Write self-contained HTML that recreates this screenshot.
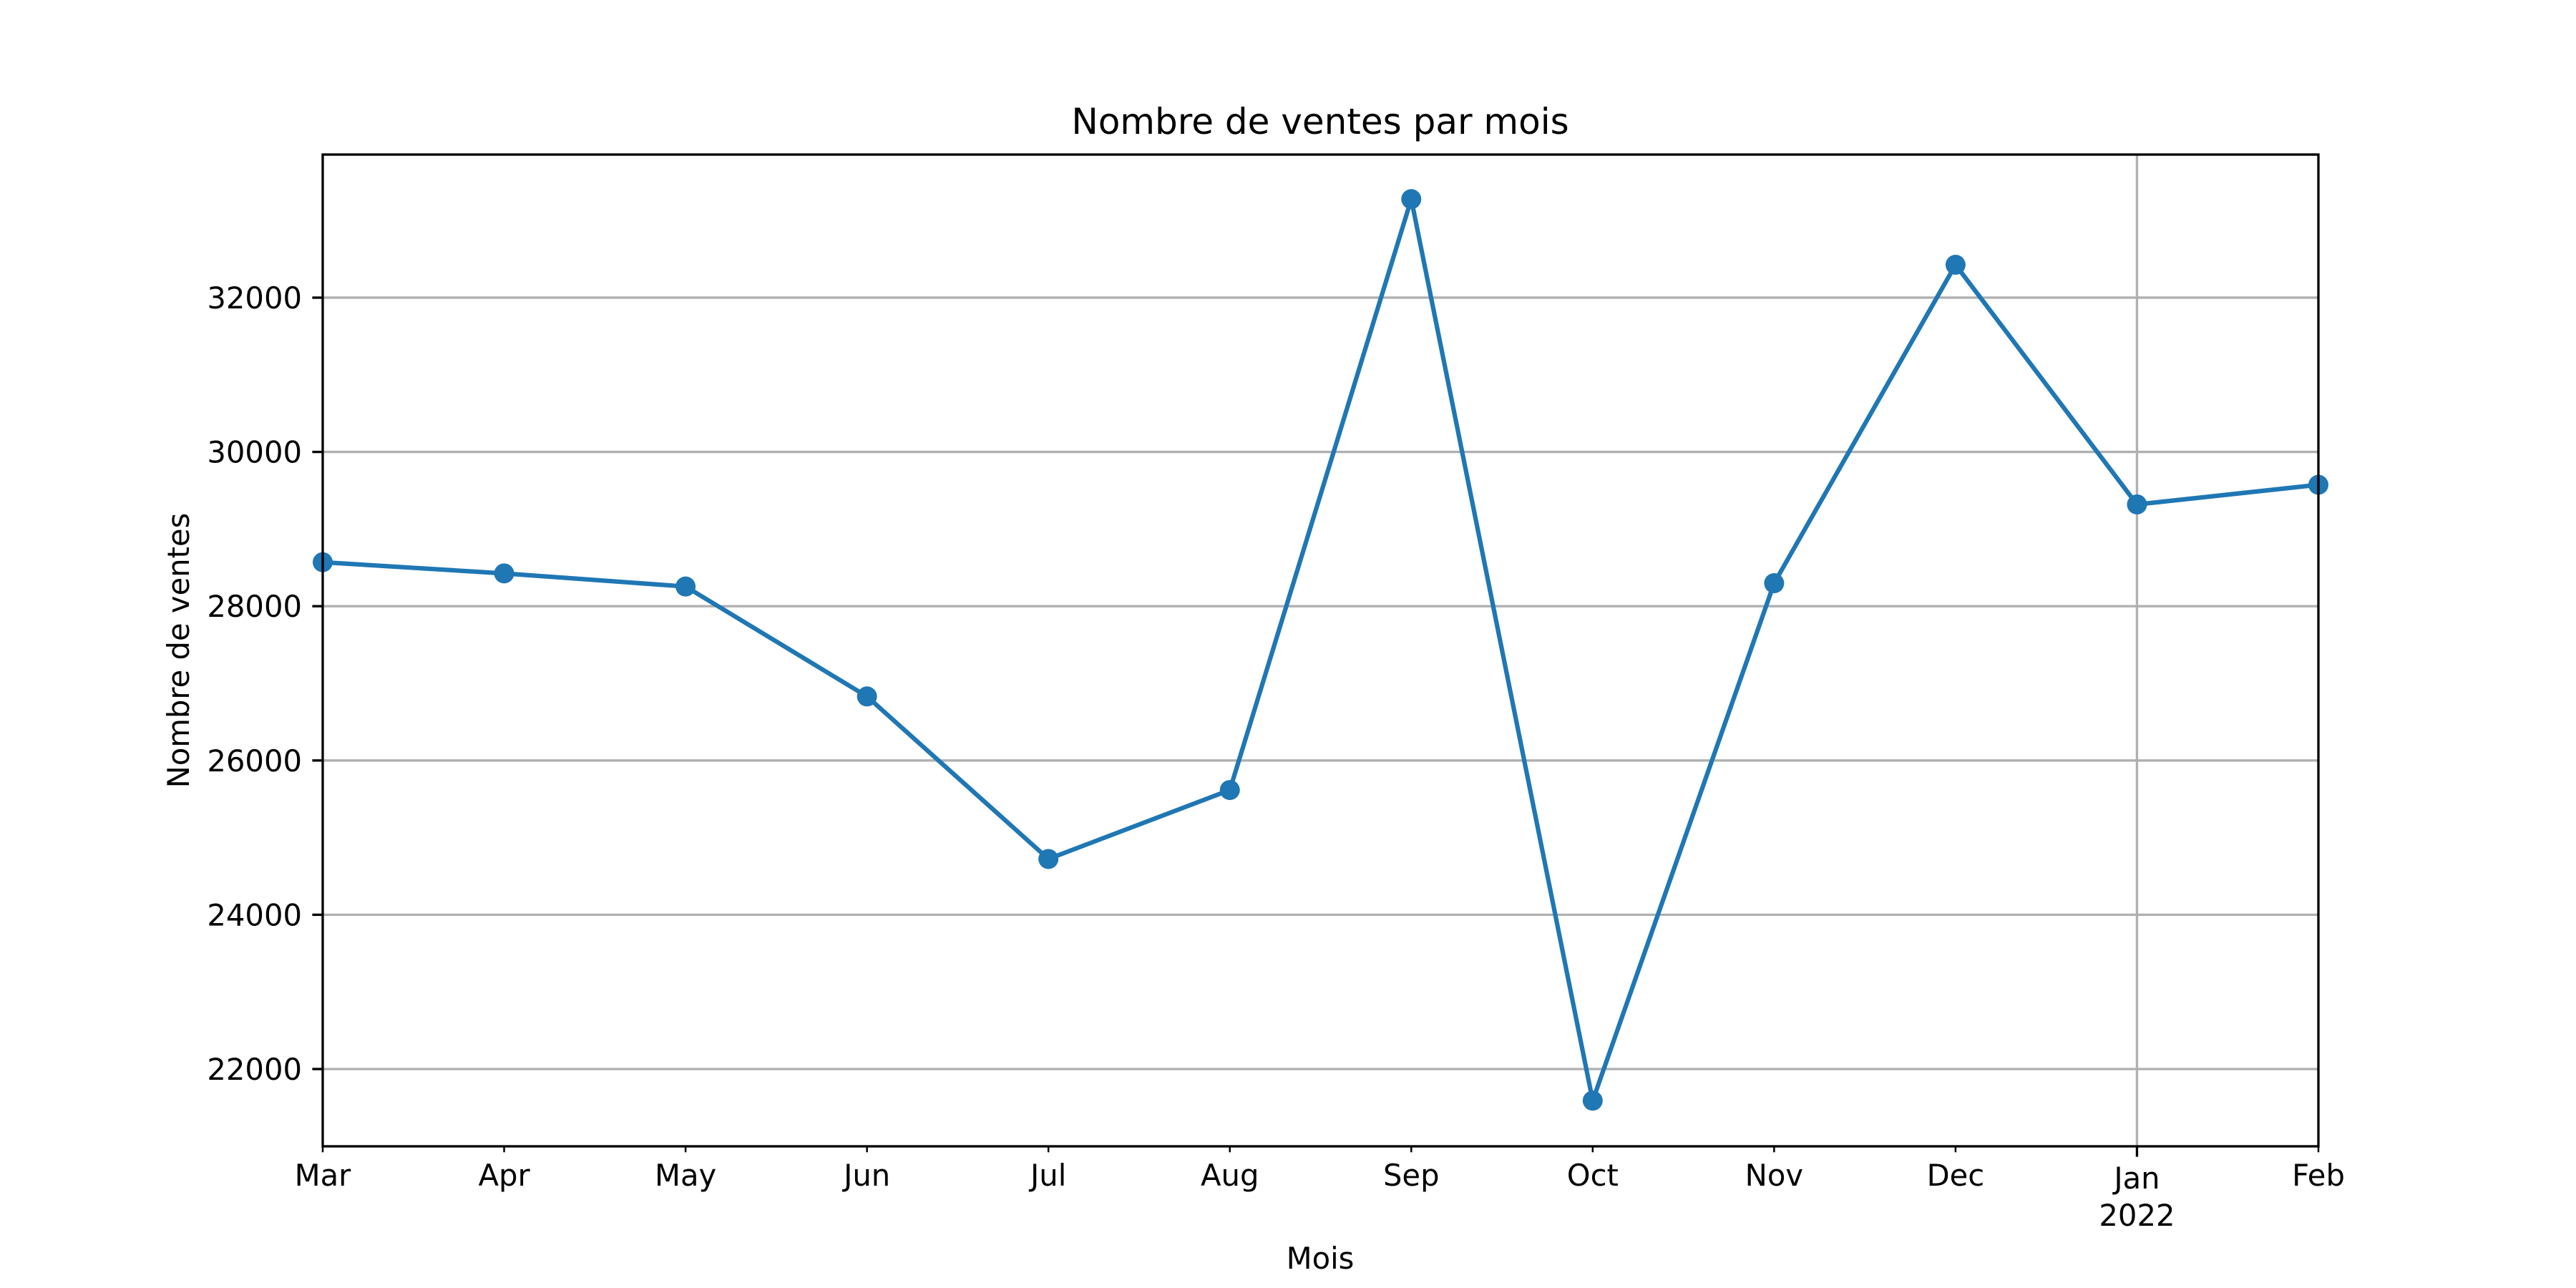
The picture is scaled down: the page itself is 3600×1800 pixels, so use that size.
<!DOCTYPE html>
<html><head><meta charset="utf-8"><style>html,body{margin:0;padding:0;background:#fff}svg{display:block}text{font-family:"DejaVu Sans","Liberation Sans",sans-serif;fill:#000}</style></head>
<body>
<svg id="chart" width="3600" height="1800" viewBox="0 0 3600 1800" xmlns="http://www.w3.org/2000/svg">
<rect width="3600" height="1800" fill="#fff"/>
<g id="grid"></g><g id="series"></g><g id="axes"></g>
<text x="1845" y="187" font-size="50" text-anchor="middle">Nombre de ventes par mois</text>
<text x="1845" y="1773" font-size="41.7" text-anchor="middle">Mois</text>
<text transform="translate(264,909) rotate(-90)" font-size="41.7" text-anchor="middle">Nombre de ventes</text>
</svg>
<script>
const months = ["Mar","Apr","May","Jun","Jul","Aug","Sep","Oct","Nov","Dec","Jan","Feb"];
const sales = [28570,28425,28255,26830,24723,25617,33277,21590,28298,32426,29319,29574];
const yTicks = [22000,24000,26000,28000,30000,32000];
const yTickLabels = ["22000","24000","26000","28000","30000","32000"];

const L=451,R=3240,T=216,B=1602,YMIN=20998,YMAX=33855;
const NS="http://www.w3.org/2000/svg";
const xs=i=>L+(R-L)*i/(months.length-1);
const ys=v=>B-(v-YMIN)/(YMAX-YMIN)*(B-T);
function mk(tag,attrs,parent){const e=document.createElementNS(NS,tag);for(const k in attrs)e.setAttribute(k,attrs[k]);document.getElementById(parent).appendChild(e);return e;}
yTicks.forEach((v,i)=>{
  const g=mk('line',{x1:L,x2:R,y1:ys(v),y2:ys(v),stroke:'#b0b0b0','stroke-width':3.33},'grid');
  
  
  const t=mk('line',{x1:L-14.6,x2:L,y1:ys(v),y2:ys(v),stroke:'#000','stroke-width':3.33},'axes');
  
  
  const tx=mk('text',{x:L-29,y:ys(v)+15,'font-size':41.7,'text-anchor':'end'},'axes');
  tx.textContent=yTickLabels[i];
  
  
});
months.forEach((m,i)=>{
  const major=m==="Jan";
  if(major){const g=mk('line',{x1:xs(i),x2:xs(i),y1:T,y2:B,stroke:'#b0b0b0','stroke-width':3.33},'grid');
    
    }
  const t=mk('line',{x1:xs(i),x2:xs(i),y1:B,y2:B+(major?14.6:8.3),stroke:'#000','stroke-width':major?3.33:2.5},'axes');
  
  
  const tx=mk('text',{x:xs(i),y:major?1661:1657,'font-size':41.7,'text-anchor':'middle'},'axes');
  tx.textContent=m;
  
  
  if(major){const y2=mk('text',{x:xs(i),y:1713,'font-size':41.7,'text-anchor':'middle'},'axes');
    y2.textContent="2022";
    
    }
});
const frame=mk('rect',{x:L,y:T,width:R-L,height:B-T,fill:'none',stroke:'#000','stroke-width':3.33},'axes');


const pl=mk('polyline',{points:sales.map((v,i)=>xs(i)+','+ys(v)).join(' '),fill:'none',stroke:'#1f77b4','stroke-width':6.25,'stroke-linejoin':'round'},'series');


sales.forEach((v,i)=>{
  const c=mk('circle',{cx:xs(i),cy:ys(v),r:14,fill:'#1f77b4'},'series');
  
  
});
</script>
</body></html>
